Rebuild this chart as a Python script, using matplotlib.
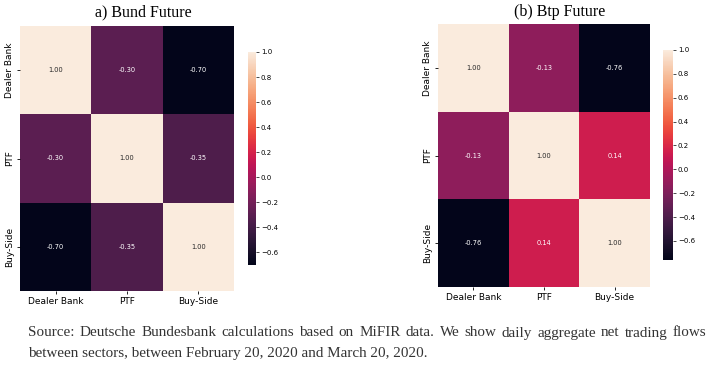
import numpy as np
import matplotlib
matplotlib.use("Agg")
import matplotlib.pyplot as plt
import seaborn as sns

plt.rcParams["font.family"] = "DejaVu Sans"

# sectors and correlation matrices
sectors = ["Dealer Bank", "PTF", "Buy-Side"]
bund_corr = [[1.00, -0.30, -0.70],
             [-0.30, 1.00, -0.35],
             [-0.70, -0.35, 1.00]]
btp_corr = [[1.00, -0.13, -0.76],
            [-0.13, 1.00, 0.14],
            [-0.76, 0.14, 1.00]]
titles = ["a) Bund Future", "(b) Btp Future"]
cbar_ticks = [-0.6, -0.4, -0.2, 0.0, 0.2, 0.4, 0.6, 0.8, 1.0]
caption = ["Source: Deutsche Bundesbank calculations based on MiFIR data. We show daily aggregate net trading flows",
           "between sectors, between February 20, 2020 and March 20, 2020."]

W, H = 726, 365
fig = plt.figure(figsize=(W / 100, H / 100), dpi=100)


def px_axes(x0, y0, x1, y1):
    """Axes from pixel box (top-left origin)."""
    return fig.add_axes([x0 / W, 1 - y1 / H, (x1 - x0) / W, (y1 - y0) / H])


panels = [
    (bund_corr, (20, 26, 234, 291), (248, 52, 256, 265), 143),
    (btp_corr, (438, 24, 650, 287), (663, 50, 673, 260), 560),
]

for (data, hbox, cbox, tx), title in zip(panels, titles):
    ax = px_axes(*hbox)
    cax = px_axes(*cbox)
    arr = np.array(data)
    sns.heatmap(arr, ax=ax, cbar_ax=cax, annot=True, fmt=".2f",
                xticklabels=sectors, yticklabels=sectors,
                annot_kws={"fontsize": 4.8})
    ax.tick_params(axis="x", labelsize=6.5, length=2.5, width=0.6, pad=2)
    ax.tick_params(axis="y", labelsize=6.5, length=2.5, width=0.6, pad=2)
    cax.set_yticks(cbar_ticks)
    cax.tick_params(labelsize=5, length=2, width=0.5, pad=1.5)
    fig.text(tx / W, 1 - 12 / H, title, ha="center", va="center",
             fontsize=11.5, family="Liberation Serif")

# justified caption, font scaled so the last line ends where it does in the source
renderer = fig.canvas.get_renderer()
x_left, x_right, last_end = 28, 706, 426
probe = fig.text(0, 0, caption[-1], fontsize=10, family="Liberation Serif")
fs = 10 * (last_end - x_left) / probe.get_window_extent(renderer).width
probe.remove()

for i, (line, y) in enumerate(zip(caption, [333, 353])):
    words = line.split(" ")
    if i == len(caption) - 1:
        fig.text(x_left / W, 1 - y / H, line, ha="left", va="center",
                 fontsize=fs, family="Liberation Serif", color="#333333")
        continue
    texts = [fig.text(0, 1 - y / H, w, ha="left", va="center",
                      fontsize=fs, family="Liberation Serif", color="#333333")
             for w in words]
    widths = [t.get_window_extent(renderer).width for t in texts]
    gap = (x_right - x_left - sum(widths)) / (len(words) - 1)
    x = x_left
    for t, w in zip(texts, widths):
        t.set_x(x / W)
        x += w + gap

fig.savefig("out.png", dpi=100)
